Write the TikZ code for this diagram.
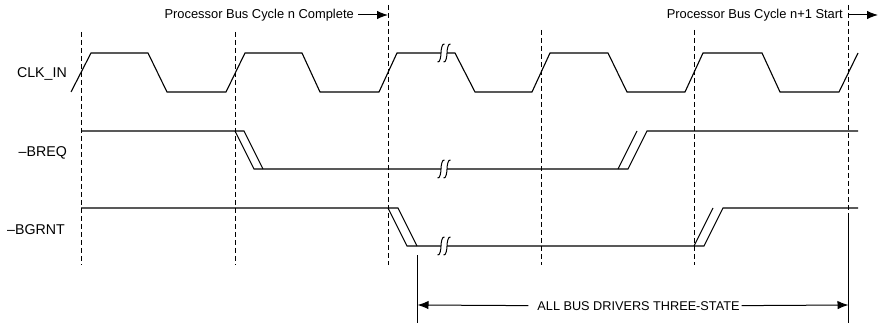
\documentclass[tikz,border=0pt]{standalone}
\usepackage{fontspec}
\setmainfont{Liberation Sans}
\usetikzlibrary{arrows.meta}
\begin{document}
\begin{tikzpicture}[x=1pt,y=-1pt,
  sig/.style={line width=1.1pt, line join=miter},
  edge/.style={line width=0.9pt},
  guide/.style={line width=0.8pt, dash pattern=on 5pt off 3pt},
  lbl/.style={font=\fontsize{14.2}{16}\selectfont, inner sep=0pt, anchor=base east},
  ttl/.style={font=\fontsize{12.9}{15}\selectfont, inner sep=0pt},
  tip/.style={-{Latex[length=11pt,width=8.5pt]}, line width=1pt},
  brk/.pic={\draw[line width=1pt] (-3.5,9) .. controls (-1,10) and (0,3) .. (0,0) .. controls (0,-3) and (1,-10) .. (3.5,-9);}
]
\useasboundingbox (0,0) rectangle (878,323);

% guide lines
\draw[guide] (81,32) -- (81,265);
\draw[guide] (235,32) -- (235,265);
\draw[guide] (388,5) -- (388,265);
\draw[guide] (541,30) -- (541,265);
\draw[guide] (694,30) -- (694,265);
\draw[guide] (848,5) -- (848,218);

% labels
\node[lbl] (clk) at (67,78) {CLK\_IN};
\node[lbl] (breq) at (67,157) {–BREQ};
\node[lbl] (bgrnt) at (65,234) {–BGRNT};

% CLK_IN
\draw[sig] (71,92) -- (91,53) -- (148,53) -- (167,92) -- (226,92) -- (245,53) -- (302,53) -- (320,92) -- (379,92) -- (397,53) -- (441,53);
\draw[sig] (447,53) -- (455,53) -- (475,92) -- (532,92) -- (550,53) -- (608,53) -- (627,92) -- (685,92) -- (703,53) -- (762,53) -- (780,92) -- (839,92) -- (858,53);
\pic at (441,53) {brk};
\pic at (447,53) {brk};

% -BREQ
\draw[sig] (81,131) -- (244,131) -- (263,169);
\draw[sig] (235,131) -- (254,169) -- (441,169);
\draw[sig] (447,169) -- (628,169) -- (647,131) -- (858,131);
\draw[sig] (618,169) -- (637,131);
\pic at (441,169) {brk};
\pic at (447,169) {brk};

% -BGRNT
\draw[sig] (81,208) -- (398,208) -- (417,246);
\draw[sig] (388,208) -- (407,246) -- (441,246);
\draw[sig] (447,246) -- (704,246) -- (723,208) -- (858,208);
\draw[sig] (694,246) -- (713,208);
\pic at (441,246) {brk};
\pic at (447,246) {brk};

% bottom extent lines
\coordinate (v1a) at (417.5,255);
\coordinate (v1b) at (417.5,323);
\coordinate (v2a) at (848.5,218);
\coordinate (v2b) at (848.5,323);
\draw[edge] (v1a) -- (v1b);
\draw[edge] (v2a) -- (v2b);

% titles
\node[ttl, anchor=base east] (t1) at (354,19) {Processor Bus Cycle n Complete};
\coordinate (a0) at (358,15);
\coordinate (a1) at (388,15);
\draw[tip] (a0) -- (a1);
\node[ttl, anchor=base east] (t2) at (843,19) {Processor Bus Cycle n+1 Start};
\coordinate (b0) at (848,15);
\coordinate (b1) at (878,15);
\draw[tip] (b0) -- (b1);

% dimension
\node[ttl, font=\fontsize{12.7}{15}\selectfont, anchor=base] (t3) at (638.5,310) {ALL BUS DRIVERS THREE-STATE};
\coordinate (L) at (417.5,305);
\coordinate (R) at (848.5,305);
\draw[tip] ([xshift=-9pt]t3.west) -- (L);
\draw[tip] ([xshift=2pt]t3.east) -- (R);
\end{tikzpicture}
\end{document}
